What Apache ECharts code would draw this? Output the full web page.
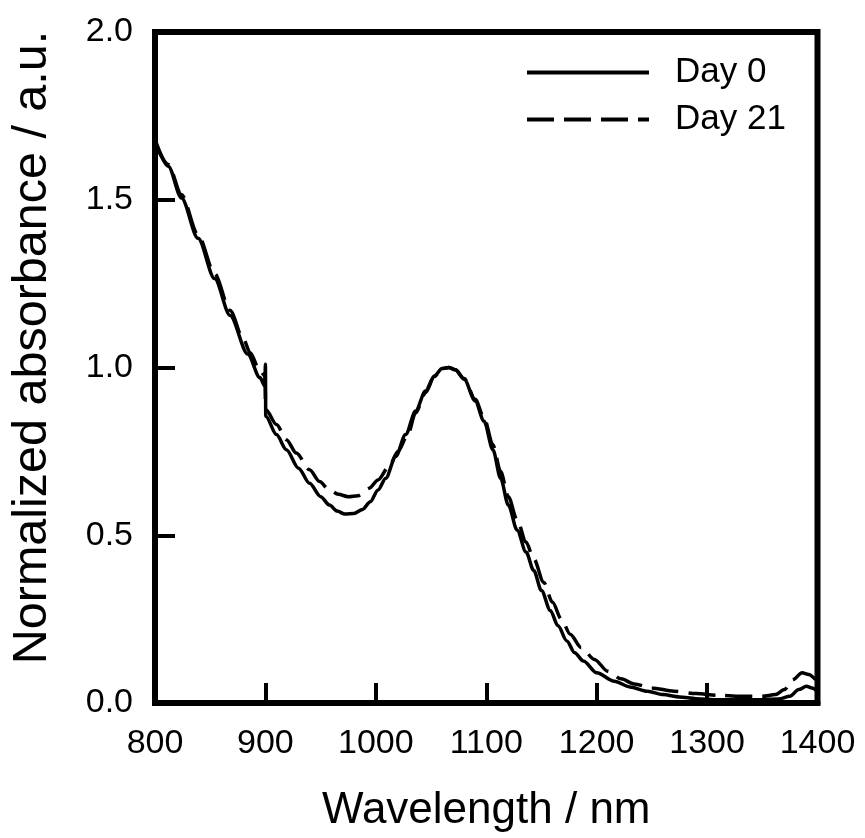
<!DOCTYPE html>
<html>
<head>
<meta charset="utf-8">
<script src="https://cdn.jsdelivr.net/npm/echarts@6/dist/echarts.min.js"></script>
<style>
html,body{margin:0;padding:0;background:#fff;}
#chart{width:865px;height:838px;}
</style>
</head>
<body>
<div id="chart"></div>
<script>
// Day 0 (solid)
const day0Wavelength = [800,812,824,839,854,868,884,895,899.5,900,900.3,910,919,930,940,950,958,965,972,980,988,995,1002,1009,1018,1027,1036,1045,1053,1060,1066,1072,1080,1090,1098,1106,1113,1120,1128,1136,1143,1150,1158,1165,1173,1180,1188,1200,1216,1230,1246,1260,1275,1290,1310,1330,1350,1365,1375,1383,1390,1395,1400];
const day0Absorbance = [1.68,1.60,1.505,1.385,1.265,1.155,1.04,0.97,0.945,1.01,0.855,0.80,0.755,0.70,0.655,0.615,0.59,0.572,0.563,0.565,0.577,0.60,0.635,0.67,0.735,0.80,0.87,0.93,0.975,0.997,1.0,0.993,0.965,0.90,0.84,0.755,0.67,0.59,0.515,0.45,0.395,0.335,0.276,0.23,0.185,0.15,0.125,0.09,0.065,0.048,0.035,0.025,0.018,0.013,0.01,0.01,0.01,0.012,0.02,0.04,0.05,0.045,0.035];
// Day 21 (dashed)
const day21Wavelength = [800,812,824,839,854,868,880,886,895,899.5,900.3,910,919,928,940,949,958,966,975,984,994,1002,1012,1020,1029,1036,1045,1053,1060,1066,1072,1080,1090,1098,1106,1113,1120,1128,1136,1143,1152,1160,1168,1176,1186,1198,1210,1222,1234,1250,1270,1290,1310,1330,1350,1362,1370,1378,1386,1392,1400];
const day21Absorbance = [1.67,1.605,1.515,1.395,1.28,1.17,1.085,1.045,0.99,0.975,0.875,0.83,0.785,0.745,0.695,0.66,0.635,0.622,0.615,0.618,0.64,0.665,0.705,0.75,0.80,0.865,0.925,0.973,0.996,1.0,0.993,0.967,0.905,0.85,0.77,0.69,0.615,0.545,0.48,0.43,0.36,0.30,0.25,0.205,0.165,0.13,0.095,0.072,0.057,0.045,0.035,0.028,0.023,0.02,0.02,0.025,0.04,0.07,0.09,0.085,0.063];

const seriesNames = ['Day 0', 'Day 21'];
const xTicks = [800, 900, 1000, 1100, 1200, 1300, 1400];
const yTicks = ['0.0', '0.5', '1.0', '1.5', '2.0'];

const FONT = '"Liberation Sans", Arial, sans-serif';
const chart = echarts.init(document.getElementById('chart'), null, {renderer: 'canvas'});
const zip = (xs, ys) => xs.map((x, i) => [x, ys[i]]);

chart.setOption({
  backgroundColor: '#fff',
  animation: false,
  grid: {left: 146.5, right: 47.5, top: 32, bottom: 132, show: true, borderColor: '#000', borderWidth: 6, containLabel: false},
  legend: {
    data: seriesNames,
    orient: 'vertical',
    left: 525,
    top: 55,
    padding: 0,
    itemWidth: 122,
    itemHeight: 14,
    itemGap: 12,
    itemStyle: {opacity: 0},
    lineStyle: {width: 4},
    textStyle: {fontFamily: FONT, fontSize: 35, color: '#000', lineHeight: 35, padding: [0, 0, 0, 21]}
  },
  xAxis: {
    type: 'value',
    min: xTicks[0],
    max: xTicks[xTicks.length - 1],
    interval: 100,
    name: 'Wavelength / nm',
    nameLocation: 'middle',
    nameGap: 86,
    nameTextStyle: {fontFamily: FONT, fontSize: 44, color: '#000'},
    axisLine: {show: true, lineStyle: {color: '#000', width: 6}},
    axisTick: {show: true, inside: true, length: 20, lineStyle: {color: '#000', width: 4}},
    axisLabel: {fontFamily: FONT, fontSize: 34, color: '#000', margin: 24, formatter: v => String(v)},
    splitLine: {show: false}
  },
  yAxis: {
    type: 'value',
    min: 0,
    max: 2,
    interval: 0.5,
    name: 'Normalized absorbance / a.u.',
    nameLocation: 'middle',
    nameGap: 98,
    nameTextStyle: {fontFamily: FONT, fontSize: 48.5, color: '#000', padding: [0, 0, 0, 40]},
    axisLine: {show: true, lineStyle: {color: '#000', width: 6}},
    axisTick: {show: true, inside: true, length: 20, lineStyle: {color: '#000', width: 4}},
    axisLabel: {fontFamily: FONT, fontSize: 34, color: '#000', margin: 22, formatter: v => yTicks[Math.round(v / 0.5)]},
    splitLine: {show: false}
  },
  series: [
    {
      name: seriesNames[0], type: 'line', showSymbol: false, symbol: 'none',
      smooth: 0.3, smoothMonotone: 'x',
      lineStyle: {color: '#000', width: 3.5, type: 'solid'},
      itemStyle: {color: '#000'},
      data: zip(day0Wavelength, day0Absorbance)
    },
    {
      name: seriesNames[1], type: 'line', showSymbol: false, symbol: 'none',
      smooth: 0.3, smoothMonotone: 'x',
      lineStyle: {color: '#000', width: 3.5, type: [27, 10]},
      itemStyle: {color: '#000'},
      data: zip(day21Wavelength, day21Absorbance)
    }
  ]
});
</script>
</body>
</html>
